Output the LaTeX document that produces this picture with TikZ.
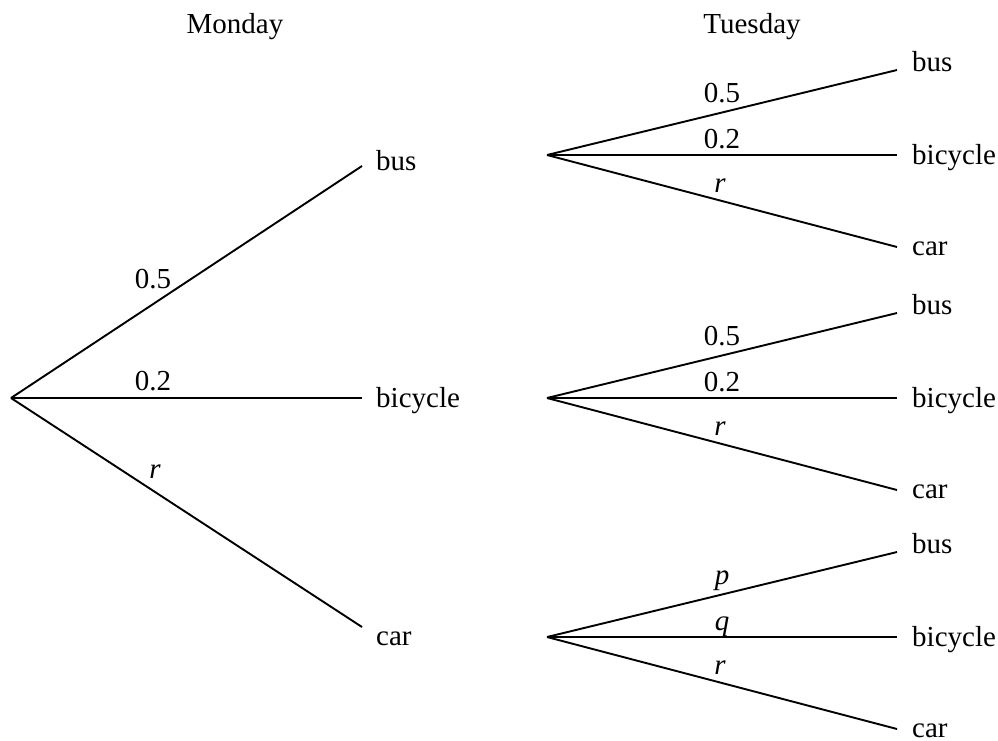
\documentclass[tikz,border=0pt]{standalone}
\usepackage{fontspec}
\setmainfont{Liberation Serif}
\begin{document}
\begin{tikzpicture}[x=1pt,y=-1pt,
  branch/.style={line width=1.9pt,line cap=butt},
  lbl/.style={anchor=base west,inner sep=0pt,font=\fontsize{29}{34}\selectfont},
  prob/.style={anchor=base,inner sep=0pt,font=\fontsize{29}{34}\selectfont},
  head/.style={anchor=base,inner sep=0pt,font=\fontsize{29}{34}\selectfont}]
\useasboundingbox (0,0) rectangle (998,740);
% headings
\node[head] (mon) at (235,33) {Monday};
\node[head] (tue) at (752,33) {Tuesday};
% first stage
\coordinate (root) at (11,398);
\coordinate (m1) at (362,166);
\coordinate (m2) at (362,398);
\coordinate (m3) at (362,627);
\draw[branch] (root) -- (m1);
\draw[branch] (root) -- (m2);
\draw[branch] (root) -- (m3);
\node[lbl] (mbus) at (376,170) {bus};
\node[lbl] (mbic) at (376,407) {bicycle};
\node[lbl] (mcar) at (376,645) {car};
\node[prob] (p11) at (153,288) {0.5};
\node[prob] (p12) at (153,390) {0.2};
\node[prob] (p13) at (155,478) {\itshape r};
% second stage
\foreach \i/\y/\la/\lb/\lc in {1/155/0.5/0.2/\itshape r, 2/398/0.5/0.2/\itshape r, 3/637/\itshape p/\itshape q/\itshape r}{
  \coordinate (s\i) at (547,\y);
  \coordinate (e\i a) at (897,\y-85);
  \coordinate (e\i b) at (897,\y);
  \coordinate (e\i c) at (897,\y+92);
  \draw[branch] (s\i) -- (e\i a);
  \draw[branch] (s\i) -- (e\i b);
  \draw[branch] (s\i) -- (e\i c);
  \node[lbl] (t\i a) at (912,\y-84) {bus};
  \node[lbl] (t\i b) at (912,\y+9) {bicycle};
  \node[lbl] (t\i c) at (912,\y+100) {car};
  \node[prob] (q\i a) at (722,\y-53) {\la};
  \node[prob] (q\i b) at (722,\y-7) {\lb};
  \node[prob] (q\i c) at (720,\y+37) {\lc};
}
\end{tikzpicture}
\end{document}
